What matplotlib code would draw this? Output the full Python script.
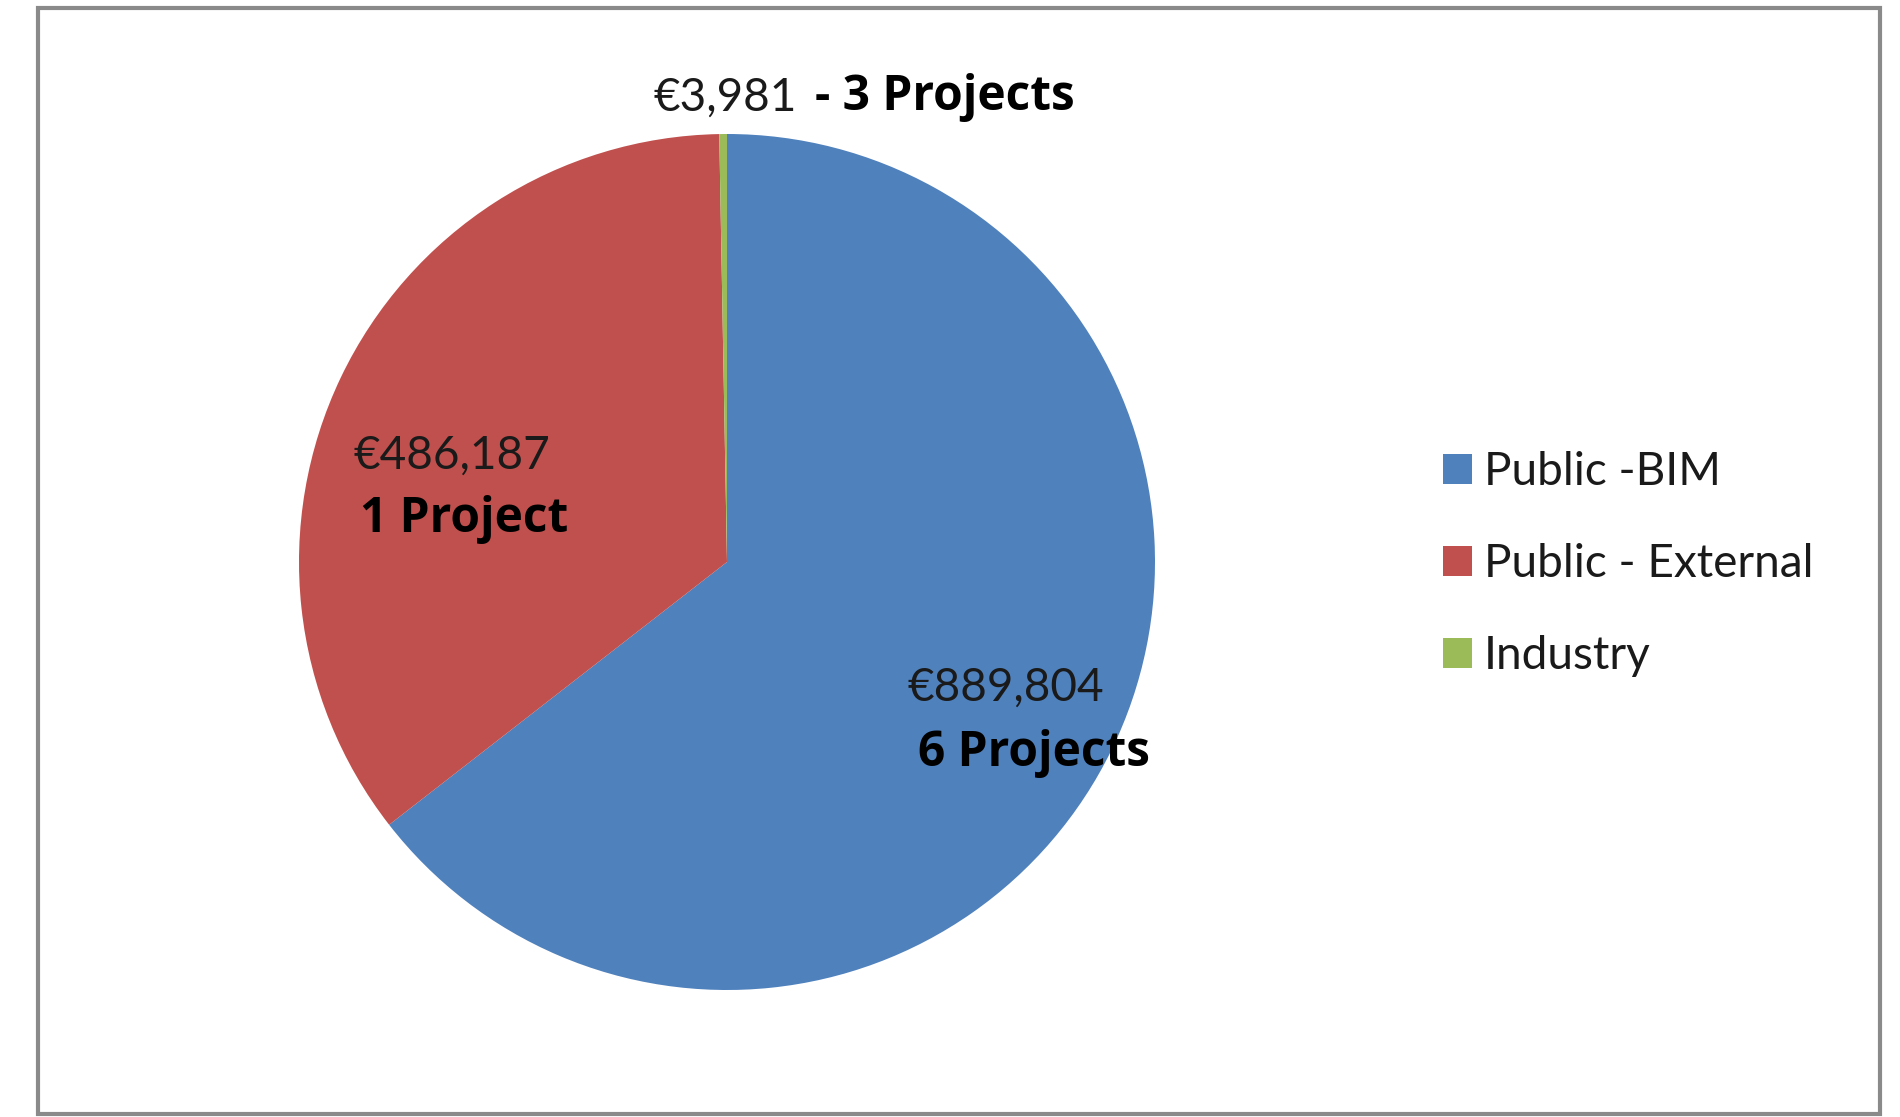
import matplotlib.pyplot as plt
from matplotlib.patches import Rectangle

# Daten
categories = ['Public -BIM', 'Public - External', 'Industry']
amounts = [889804, 486187, 3981]
projects = ['6 Projects', '1 Project', '- 3 Projects']
colors = ['#4F81BD', '#C0504D', '#9BBB59']

W, H = 1900, 1117
fig = plt.figure(figsize=(19, 11.17), dpi=100)
ax = fig.add_axes([0, 0, 1, 1])
ax.set_xlim(0, W)
ax.set_ylim(0, H)
ax.set_aspect('equal')
ax.axis('off')

wedges, _ = ax.pie(amounts, colors=colors, startangle=90, counterclock=False,
                   center=(727, H - 562), radius=428,
                   wedgeprops=dict(linewidth=0))
ax.set_xlim(0, W)
ax.set_ylim(0, H)

# Rahmen
ax.add_patch(Rectangle((38, 3), 1842, H - 11, fill=False, edgecolor='#8a8a8a', linewidth=3))

num_font = dict(family='Lato', fontsize=33, color='#1a1a1a')
bold_font = dict(family='Open Sans', fontsize=34.5, fontweight='bold', color='black')

# Beschriftungen
ax.text(907, H - 688, f'€{amounts[0]:,}', ha='left', va='center', **num_font)
ax.text(918, H - 754, projects[0], ha='left', va='center', **bold_font)
ax.text(354, H - 456, f'€{amounts[1]:,}', ha='left', va='center', **num_font)
ax.text(360, H - 519, projects[1], ha='left', va='center', **bold_font)
ax.text(654, H - 98, f'€{amounts[2]:,}', ha='left', va='center', **num_font)
ax.text(815, H - 98, projects[2], ha='left', va='center', **bold_font)

leg = ax.legend(wedges, categories, loc='center left', bbox_to_anchor=(1443 / W, 1 - 564 / H),
                frameon=False, prop=dict(family='Lato', size=33),
                borderpad=0, borderaxespad=0,
                handlelength=0.63, handleheight=0.63, handletextpad=0.26, labelspacing=1.09)
for t in leg.get_texts():
    t.set_color('#1a1a1a')

fig.savefig('out.png', dpi=100)
